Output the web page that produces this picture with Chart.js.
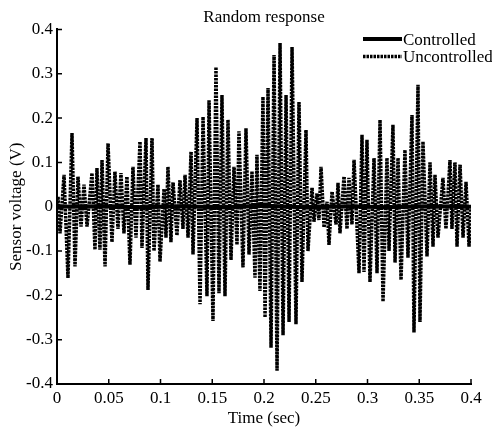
<!DOCTYPE html>
<html>
<head>
<meta charset="UTF-8"/>
<title>Random response</title>
<script src="https://cdn.jsdelivr.net/npm/chart.js@4.4.3/dist/chart.umd.min.js"></script>
<style>
  *{margin:0;padding:0}
  body{background:#fff;width:492px;height:430px;overflow:hidden}
</style>
</head>
<body>
<canvas id="chart" width="492" height="430"></canvas>
<script>
// ─── Data ─────────────────────────────────────────────────────────────────────
const TITLE = 'Random response';
const X_TITLE = 'Time (sec)';
const Y_TITLE = 'Sensor voltage (V)';

const xTicks      = [0, 0.05, 0.1, 0.15, 0.2, 0.25, 0.3, 0.35, 0.4];
const xTickLabels = ['0', '0.05', '0.1', '0.15', '0.2', '0.25', '0.3', '0.35', '0.4'];
const yTicks      = [-0.4, -0.3, -0.2, -0.1, 0, 0.1, 0.2, 0.3, 0.4];
const yTickLabels = ['-0.4', '-0.3', '-0.2', '-0.1', '0', '0.1', '0.2', '0.3', '0.4'];

// uncontrolled: time (s) of each peak / trough and its voltage
const uncontrolledT = [
  0, 0.001, 0.0029, 0.0068, 0.0106, 0.0145, 0.0174, 0.0203, 0.0232, 0.0261,
  0.029, 0.0338, 0.0367, 0.0386, 0.0415, 0.0435, 0.0464, 0.0493, 0.0531, 0.056,
  0.0589, 0.0618, 0.0647, 0.0676, 0.0705, 0.0734, 0.0763, 0.0802, 0.0821, 0.086,
  0.0879, 0.0918, 0.0937, 0.0976, 0.0995, 0.1034, 0.1053, 0.1072, 0.1101, 0.1121,
  0.1159, 0.1188, 0.1217, 0.1237, 0.1266, 0.1295, 0.1314, 0.1353, 0.1382, 0.1411,
  0.1449, 0.1469, 0.1507, 0.1536, 0.1565, 0.1594, 0.1623, 0.1652, 0.1681, 0.171,
  0.1739, 0.1758, 0.1797, 0.1826, 0.1855, 0.1884, 0.1913, 0.1932, 0.1961, 0.199,
  0.201, 0.2039, 0.2068, 0.2097, 0.2126, 0.2155, 0.2184, 0.2213, 0.2242, 0.2271,
  0.2309, 0.2338, 0.2367, 0.2406, 0.2425, 0.2464, 0.2483, 0.2512, 0.2531, 0.2551,
  0.258, 0.2609, 0.2628, 0.2657, 0.2696, 0.2715, 0.2734, 0.2773, 0.2802, 0.2821,
  0.285, 0.287, 0.2918, 0.2947, 0.2966, 0.2995, 0.3024, 0.3063, 0.3092, 0.3121,
  0.315, 0.3188, 0.3208, 0.3246, 0.3266, 0.3295, 0.3324, 0.3362, 0.3391, 0.343,
  0.3449, 0.3488, 0.3507, 0.3536, 0.3575, 0.3604, 0.3633, 0.3652, 0.3681, 0.3729,
  0.3758, 0.3797, 0.3816, 0.3845, 0.3865, 0.3894, 0.3923, 0.3952, 0.3981, 0.4
];
const uncontrolledV = [
  0, 0.023, -0.06, 0.072, -0.161, 0.166, -0.135, 0.068, -0.045, 0.05,
  -0.045, 0.076, -0.097, 0.087, -0.097, 0.105, -0.135, 0.143, -0.08, 0.079,
  -0.05, 0.076, -0.06, 0.068, -0.131, 0.09, -0.07, 0.147, -0.093, 0.155,
  -0.188, 0.155, -0.1, 0.05, -0.124, 0.04, -0.07, 0.09, -0.08, 0.055,
  -0.065, 0.06, -0.05, 0.072, -0.07, 0.124, -0.108, 0.2, -0.22, 0.203,
  -0.202, 0.24, -0.258, 0.315, -0.195, 0.252, -0.202, 0.196, -0.12, 0.09,
  -0.086, 0.17, -0.137, 0.177, -0.108, 0.08, -0.16, 0.117, -0.19, 0.248,
  -0.25, 0.268, -0.318, 0.342, -0.37, 0.369, -0.29, 0.252, -0.26, 0.36,
  -0.265, 0.236, -0.17, 0.173, -0.1, 0.043, -0.034, 0.03, -0.03, 0.09,
  -0.047, 0.011, -0.086, 0.034, -0.04, 0.054, -0.06, 0.068, -0.05, 0.065,
  -0.04, 0.106, -0.15, 0.162, -0.147, 0.151, -0.17, 0.11, -0.15, 0.196,
  -0.214, 0.11, -0.1, 0.185, -0.126, 0.11, -0.165, 0.128, -0.115, 0.207,
  -0.284, 0.275, -0.26, 0.147, -0.112, 0.1, -0.09, 0.072, -0.07, 0.065,
  -0.05, 0.105, -0.05, 0.1, -0.09, 0.095, -0.07, 0.056, -0.09, 0
];

// controlled: stays on zero, tiny ripple
const controlledT = [0, 0.04, 0.08, 0.12, 0.16, 0.2, 0.24, 0.28, 0.32, 0.36, 0.4];
const controlledV = [0, 0.001, -0.001, 0.001, -0.001, 0.002, -0.001, 0.001, -0.001, 0.001, 0];

// ─── Helpers ──────────────────────────────────────────────────────────────────
const SERIF = '"Liberation Serif", "Times New Roman", serif';
const FONT  = { family: SERIF, size: 17, weight: 'normal' };
const pts = (t, v) => t.map((x, i) => ({ x, y: v[i] }));
const labelFor = (vals, labels) => v => {
  const i = vals.findIndex(t => Math.abs(t - v) < 1e-9);
  return i < 0 ? '' : labels[i];
};

// inward tick marks + legend box in the upper right
const axisMarks = {
  id: 'axisMarks',
  afterDraw(chart) {
    const { ctx, chartArea: a, scales: { x, y } } = chart;
    ctx.save();
    ctx.strokeStyle = '#000';
    ctx.lineWidth = 1.5;
    ctx.beginPath();
    xTicks.forEach(v => { const px = x.getPixelForValue(v); ctx.moveTo(px, a.bottom); ctx.lineTo(px, a.bottom - 5); });
    yTicks.forEach(v => { const py = y.getPixelForValue(v); ctx.moveTo(a.left, py); ctx.lineTo(a.left + 5, py); });
    ctx.stroke();

    ctx.font = `17px ${SERIF}`;
    ctx.fillStyle = '#000';
    ctx.textBaseline = 'middle';
    chart.data.datasets.forEach((ds, i) => {
      const ly = a.top + 9.5 + i * 17.5;
      ctx.beginPath();
      ctx.lineWidth = ds.borderWidth;
      ctx.setLineDash(ds.borderDash || []);
      ctx.moveTo(a.right - 108, ly);
      ctx.lineTo(a.right - 69, ly);
      ctx.stroke();
      ctx.setLineDash([]);
      ctx.fillText(ds.label, a.right - 68, ly + 1.5);
    });
    ctx.restore();
  }
};

// ─── Chart ────────────────────────────────────────────────────────────────────
new Chart(document.getElementById('chart'), {
  type: 'line',
  data: {
    datasets: [
      { label: 'Controlled', data: pts(controlledT, controlledV),
        borderColor: '#000', borderWidth: 4, pointRadius: 0, fill: false },
      { label: 'Uncontrolled', data: pts(uncontrolledT, uncontrolledV),
        borderColor: '#000', borderWidth: 3.5, borderDash: [2.5, 1], borderCapStyle: 'butt',
        pointRadius: 0, fill: false },
    ]
  },
  options: {
    responsive: false, animation: false, devicePixelRatio: 1,
    layout: { padding: { top: 0, right: 21, bottom: 0, left: 0 } },
    plugins: {
      legend: { display: false },
      tooltip: { enabled: false },
      title: { display: true, text: TITLE, fullSize: false, color: '#000',
               font: FONT, padding: { top: 7, bottom: 2 } },
    },
    scales: {
      x: {
        type: 'linear', min: 0, max: 0.4,
        afterFit: s => { s.height = 46; },
        afterBuildTicks: s => { s.ticks = xTicks.map(v => ({ value: v })); },
        ticks: { callback: labelFor(xTicks, xTickLabels), color: '#000', font: FONT,
                 padding: 4, maxRotation: 0, autoSkip: false },
        grid: { display: false, drawTicks: false },
        border: { display: true, color: '#000', width: 2 },
        title: { display: true, text: X_TITLE, color: '#000', font: FONT, padding: { top: 0, bottom: 1 } },
      },
      y: {
        type: 'linear', min: -0.4, max: 0.4,
        afterFit: s => { s.width = 57; },
        afterBuildTicks: s => { s.ticks = yTicks.map(v => ({ value: v })); },
        ticks: { callback: labelFor(yTicks, yTickLabels), color: '#000', font: FONT,
                 padding: 4, autoSkip: false },
        grid: { display: false, drawTicks: false },
        border: { display: true, color: '#000', width: 2 },
        title: { display: true, text: Y_TITLE, color: '#000', font: FONT, padding: { top: 6, bottom: 0 } },
      },
    },
  },
  plugins: [axisMarks],
});
</script>
</body>
</html>
